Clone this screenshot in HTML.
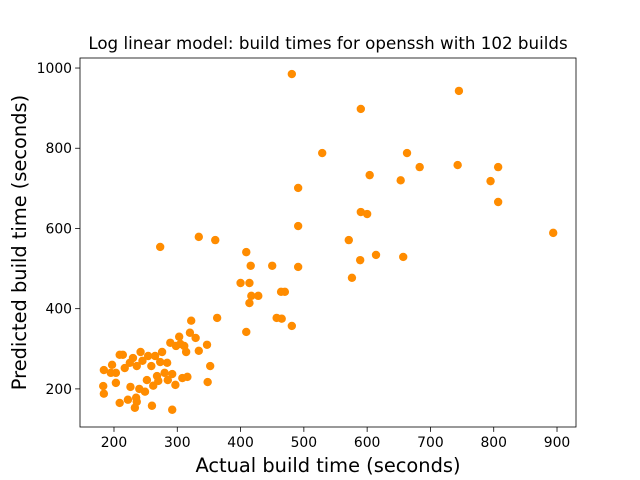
<!DOCTYPE html>
<html><head><meta charset="utf-8"><style>body{margin:0;background:#fff}svg{display:block;font-family:"DejaVu Sans","Liberation Sans",sans-serif}</style></head>
<body>
<svg id="chart" width="640" height="480"></svg>
<script>
const actualTimes=[481,745,590,529,663,491,604,653,683,743,807,795,807,894,491,273,334,360,590,600,571,576,589,614,657,409,400,416,414,450,491,417,428,414,464,470,457,465,481,363,409,
209,214,184,195,197,203,183,184,203,217,225,230,242,236,254,265,276,284,259,273,289,298,303,311,314,320,329,334,347,322,
222,235,249,252,268,270,285,292,297,308,316,352,348,233,236,260,292,209,240,245,262,280,305,226];
const predictedTimes=[985,943,898,788,788,701,733,720,753,758,753,718,666,589,606,554,579,571,641,636,571,477,521,534,529,541,464,507,464,507,504,432,432,414,442,442,377,375,357,377,342,
285,285,247,240,260,240,207,188,215,252,265,277,292,257,282,282,292,265,257,267,315,307,330,307,292,340,327,295,310,370,
173,178,193,222,232,220,222,237,210,227,230,257,217,153,168,158,148,165,200,270,208,240,312,205];
const xTicks=[200,300,400,500,600,700,800,900];
const yTicks=[200,400,600,800,1000];
const L=80,R=576,T=58,B=427;
const x0=146.3,x1=930,y0=105,y1=1025;
const sx=v=>L+(v-x0)/(x1-x0)*(R-L);
const sy=v=>B-(v-y0)/(y1-y0)*(B-T);
const svg=document.getElementById('chart');const NS='http://www.w3.org/2000/svg';
function mk(t,a,p){const e=document.createElementNS(NS,t);for(const k in a)e.setAttribute(k,a[k]);(p||svg).appendChild(e);return e;}
const pts=mk('g',{});


actualTimes.forEach((a,i)=>{const c=mk('circle',{cx:sx(a),cy:sy(predictedTimes[i]),r:4.2,fill:'#ff8c00'},pts);

});
const fr=mk('rect',{x:L,y:T,width:R-L,height:B-T,fill:'none',stroke:'#000','stroke-width':0.8});


xTicks.forEach(v=>{const x=sx(v);mk('line',{x1:x,x2:x,y1:B,y2:B+4.9,stroke:'#000','stroke-width':0.8});
const t=mk('text',{x:x,y:B+20,'font-size':13.9,'text-anchor':'middle'});t.textContent=v;

});
yTicks.forEach(v=>{const y=sy(v);mk('line',{x1:L-4.9,x2:L,y1:y,y2:y,stroke:'#000','stroke-width':0.8});
const t=mk('text',{x:L-8,y:y+5,'font-size':13.9,'text-anchor':'end'});t.textContent=v;

});
const ti=mk('text',{x:(L+R)/2,y:49,'font-size':16.7,'text-anchor':'middle'});ti.textContent='Log linear model: build times for openssh with 102 builds';


const xl=mk('text',{x:(L+R)/2,y:472,'font-size':19.4,'text-anchor':'middle'});xl.textContent='Actual build time (seconds)';


const yl=mk('text',{x:0,y:0,'font-size':19.4,'text-anchor':'middle',transform:`translate(26,${(T+B)/2}) rotate(-90)`});yl.textContent='Predicted build time (seconds)';


</script>
</body></html>
